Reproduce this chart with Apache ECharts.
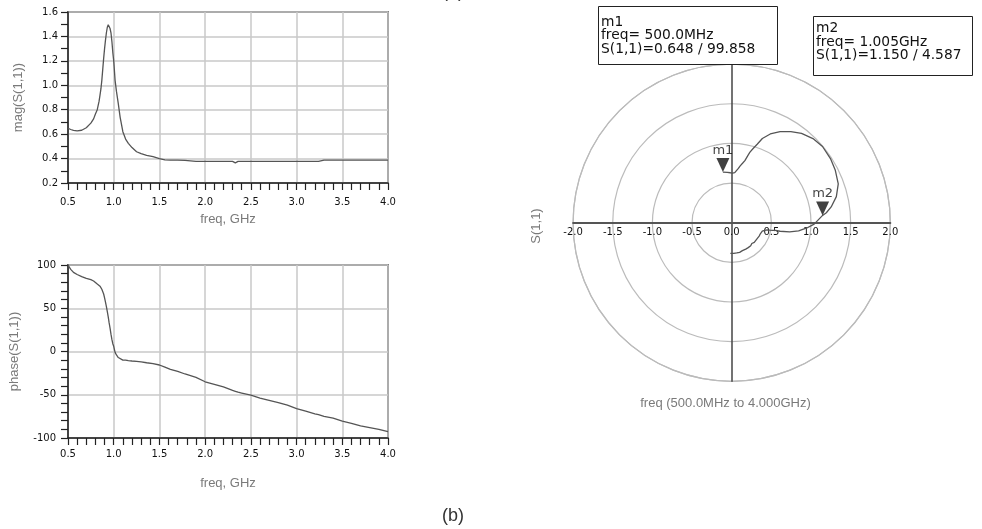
<!DOCTYPE html>
<html><head><meta charset="utf-8">
<script src="https://cdn.jsdelivr.net/npm/echarts@6/dist/echarts.min.js"></script>
<style>html,body{margin:0;padding:0;background:#fff}#c{width:982px;height:529px}</style>
</head><body><div id="c"></div>
<script>
// ---- data (freq in GHz, |S11|, phase in degrees) ----
const freq = [0.5,0.53,0.56,0.6,0.65,0.7,0.75,0.78,0.8,0.82,
  0.84,0.85,0.86,0.87,0.88,0.89,0.9,0.91,0.92,0.93,
  0.94,0.95,0.96,0.97,0.98,0.99,1.0,1.005,1.015,1.03,
  1.05,1.07,1.1,1.13,1.16,1.2,1.25,1.3,1.36,1.43,
  1.5,1.56,1.62,1.7,1.78,1.8,1.9,2.0,2.1,2.2,
  2.3,2.33,2.36,2.4,2.5,2.6,2.7,2.8,2.9,3.0,
  3.1,3.2,3.24,3.26,3.3,3.4,3.5,3.6,3.7,3.8,
  3.9,4.0];
const mag = [0.648,0.638,0.630,0.626,0.632,0.652,0.69,0.725,0.765,0.80,
  0.87,0.92,0.97,1.04,1.13,1.22,1.30,1.37,1.43,1.475,
  1.495,1.485,1.465,1.43,1.36,1.27,1.20,1.15,1.04,0.95,
  0.85,0.74,0.62,0.56,0.525,0.49,0.456,0.44,0.427,0.415,
  0.40,0.39,0.388,0.388,0.385,0.377,0.377,0.377,0.377,0.377,
  0.377,0.365,0.377,0.377,0.377,0.377,0.377,0.377,0.377,0.377,
  0.377,0.377,0.377,0.387,0.387,0.387,0.387,0.387,0.387,0.387,
  0.387,0.387];
const phase = [99.858,95,91.5,89,86.5,84.5,83,81.5,79.5,78,
  76.5,75.5,74,72,70,66.5,62,57,52,46,
  40,33,27,20,14,9,6,4.587,-1,-4,
  -7,-9,-10,-10,-10.5,-11,-11.5,-12,-13,-14,
  -15.6,-18,-20.6,-23,-26,-26.5,-30,-35,-38,-41,
  -45,-46,-47,-48,-50.5,-54,-56.5,-59,-62,-66,
  -69,-72,-73,-73.5,-75,-77,-80.5,-83,-86,-88,
  -90,-92.5];

// markers
const markerNames = ['m1','m2'];
const markerFreqText = ['500.0MHz','1.005GHz'];
const markerMag = [0.648, 1.150];
const markerPhase = [99.858, 4.587];

const NUM_FONT = 'DejaVu Sans';
const TXT_FONT = 'Liberation Sans';
const DARK = '#222';
const GRIDC = '#c8c8c8';

function cartX(gridIndex, margin, nameGap) {
  return {
    type: 'value', gridIndex, min: 0.5, max: 4.0, interval: 0.5,
    axisLine: { onZero: false, lineStyle: { color: DARK, width: 1.5 } },
    axisTick: { show: true, length: 7, lineStyle: { color: DARK, width: 1.2 } },
    minorTick: { show: true, splitNumber: 5, length: 7, lineStyle: { color: DARK, width: 1.2 } },
    splitLine: { show: true, lineStyle: { color: GRIDC, width: 1.5 } },
    axisLabel: { formatter: v => v.toFixed(1), fontSize: 10, color: '#111', fontFamily: NUM_FONT, margin },
    name: 'freq, GHz', nameLocation: 'middle', nameGap,
    nameTextStyle: { fontSize: 13, color: '#7a7a7a', fontFamily: TXT_FONT }
  };
}
function cartY(gridIndex, min, max, interval, split, fmt, name, nameGap, margin) {
  return {
    type: 'value', gridIndex, min, max, interval,
    axisLine: { onZero: false, lineStyle: { color: DARK, width: 1.5 } },
    axisTick: { show: true, length: 7, lineStyle: { color: DARK, width: 1.2 } },
    minorTick: { show: true, splitNumber: split, length: 7, lineStyle: { color: DARK, width: 1.2 } },
    splitLine: { show: true, lineStyle: { color: GRIDC, width: 1.5 } },
    axisLabel: { formatter: fmt, fontSize: 10, color: '#111', fontFamily: NUM_FONT, margin },
    name, nameLocation: 'middle', nameGap,
    nameTextStyle: { fontSize: 13, color: '#7a7a7a', fontFamily: TXT_FONT }
  };
}

const PC = [731.7, 222.7], PR = 158.6;

const boxes = [
  { x: 598.5, y: 6.5, w: 179, h: 58, ty: 15.5 },
  { x: 813.5, y: 16.5, w: 159, h: 59, ty: 22 }
];
const graphic = [];
markerNames.forEach((n, i) => {
  const b = boxes[i];
  graphic.push({ type: 'rect', shape: { x: b.x, y: b.y, width: b.w, height: b.h },
    style: { fill: '#fff', stroke: DARK, lineWidth: 1 }, z: 10 });
  graphic.push({ type: 'text', x: b.x + 2.5, y: b.ty, z: 11,
    style: { text: n + '\nfreq= ' + markerFreqText[i] + '\nS(1,1)=' + markerMag[i].toFixed(3) + ' / ' + markerPhase[i].toFixed(3),
      fontSize: 13.8, fontFamily: NUM_FONT, fill: '#111', lineHeight: 13.5, align: 'left', verticalAlign: 'top' } });
});
graphic.push({ type: 'text', x: 536.5, y: 226, rotation: Math.PI / 2,
  style: { text: 'S(1,1)', fontSize: 13, fontFamily: TXT_FONT, fill: '#7a7a7a', align: 'center', verticalAlign: 'middle' } });
graphic.push({ type: 'text', x: 725.5, y: 403,
  style: { text: 'freq (500.0MHz to 4.000GHz)', fontSize: 13, fontFamily: TXT_FONT, fill: '#7a7a7a', align: 'center', verticalAlign: 'middle' } });
graphic.push({ type: 'text', x: 453, y: 516,
  style: { text: '(b)', fontSize: 18, fontFamily: TXT_FONT, fill: '#333', align: 'center', verticalAlign: 'middle' } });
graphic.push({ type: 'text', x: 453, y: -7.5,
  style: { text: '(a)', fontSize: 18, fontFamily: TXT_FONT, fill: '#333', align: 'center', verticalAlign: 'middle' } });

const option = {
  animation: false,
  backgroundColor: '#fff',
  grid: [
    { left: 68, top: 12, width: 320, height: 171, show: true, borderColor: DARK, borderWidth: 1.5, backgroundColor: 'transparent' },
    { left: 68, top: 265, width: 320, height: 173, show: true, borderColor: DARK, borderWidth: 1.5, backgroundColor: 'transparent' },
    // upper half of the polar square: its bottom edge is the horizontal real axis
    { left: PC[0] - PR, top: PC[1] - PR, width: 2 * PR, height: PR },
    // right half of the polar square: its left edge is the vertical axis
    { left: PC[0], top: PC[1] - PR, width: PR, height: 2 * PR }
  ],
  xAxis: [
    cartX(0, 14, 30),
    cartX(1, 11, 39),
    { type: 'value', gridIndex: 2, min: -2, max: 2, interval: 0.5, position: 'bottom',
      axisLine: { show: true, onZero: false, lineStyle: { color: '#555', width: 2 } },
      axisTick: { show: false }, splitLine: { show: false },
      axisLabel: { formatter: v => v.toFixed(1), fontSize: 10, color: '#111', fontFamily: NUM_FONT, margin: 5 } },
    { type: 'value', gridIndex: 3, min: 0, max: 2, show: false }
  ],
  yAxis: [
    cartY(0, 0.2, 1.6, 0.2, 2, v => v.toFixed(1), 'mag(S(1,1))', 43, 10),
    cartY(1, -100, 100, 50, 5, v => String(Math.round(v)), 'phase(S(1,1))', 47, 12),
    { type: 'value', gridIndex: 2, min: 0, max: 2, show: false },
    { type: 'value', gridIndex: 3, min: -2, max: 2, position: 'left',
      axisLine: { show: true, onZero: false, lineStyle: { color: '#444', width: 1.5 } },
      axisTick: { show: false }, axisLabel: { show: false }, splitLine: { show: false } }
  ],
  polar: { center: PC, radius: PR },
  angleAxis: { type: 'value', min: -180, max: 180, startAngle: 180, clockwise: false,
    axisLine: { show: true, lineStyle: { color: '#bbb', width: 1.2 } },
    axisTick: { show: false }, axisLabel: { show: false }, splitLine: { show: false } },
  radiusAxis: { type: 'value', min: 0, max: 2, interval: 0.5,
    axisLine: { show: false }, axisTick: { show: false }, axisLabel: { show: false },
    splitLine: { show: true, lineStyle: { color: '#bbb', width: 1.2 } } },
  graphic,
  series: [
    { type: 'line', xAxisIndex: 0, yAxisIndex: 0, showSymbol: false, symbol: 'none',
      lineStyle: { color: '#555', width: 1.3 }, data: freq.map((f, i) => [f, mag[i]]), z: 5 },
    { type: 'line', xAxisIndex: 1, yAxisIndex: 1, showSymbol: false, symbol: 'none',
      lineStyle: { color: '#555', width: 1.3 }, data: freq.map((f, i) => [f, phase[i]]), z: 5 },
    { type: 'line', coordinateSystem: 'polar', showSymbol: false, symbol: 'none',
      lineStyle: { color: '#555', width: 1.3 }, data: mag.map((m, i) => [m, phase[i]]), z: 5 },
    { type: 'scatter', coordinateSystem: 'polar', symbol: 'triangle', symbolRotate: 180,
      symbolSize: [13, 14], symbolOffset: [0, -7], itemStyle: { color: '#111' }, z: 6,
      label: { show: true, position: 'top', distance: 1, formatter: p => p.name, fontSize: 13, fontFamily: NUM_FONT, color: '#111' },
      data: markerNames.map((n, i) => ({ name: n, value: [markerMag[i], markerPhase[i]] })) }
  ]
};
echarts.init(document.getElementById('c'), null, { renderer: 'canvas' }).setOption(option);
</script></body></html>
